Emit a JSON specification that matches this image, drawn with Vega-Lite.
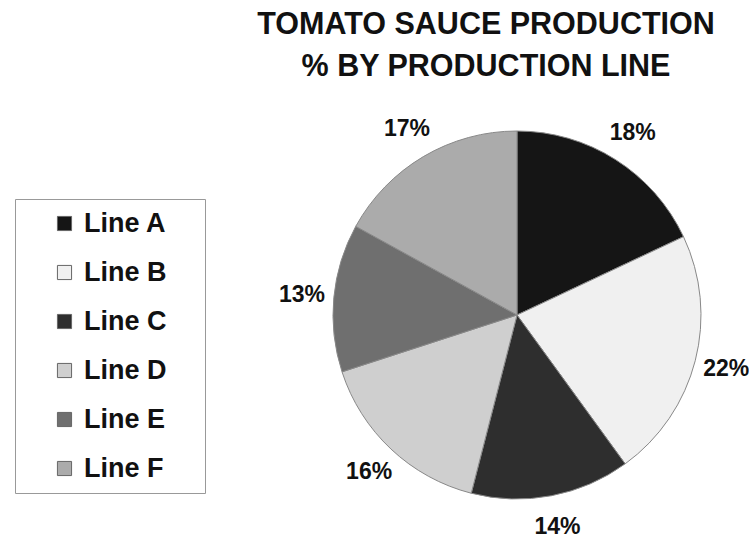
{
  "$schema": "https://vega.github.io/schema/vega-lite/v6.json",
  "autosize": "none",
  "width": 370,
  "height": 370,
  "padding": {"left": 332, "top": 130, "right": 47, "bottom": 44},
  "background": "white",
  "config": {"view": {"stroke": null}, "font": "Liberation Sans"},
  "title": {
    "text": ["TOMATO SAUCE PRODUCTION", "% BY PRODUCTION LINE"],
    "anchor": "middle",
    "fontSize": 30.5,
    "fontWeight": "bold",
    "font": "Liberation Sans",
    "lineHeight": 42,
    "dx": -31,
    "offset": 36,
    "color": "#111"
  },
  "data": {
    "values": [
      {"Line": "Line A", "pct": 0.18},
      {"Line": "Line B", "pct": 0.22},
      {"Line": "Line C", "pct": 0.14},
      {"Line": "Line D", "pct": 0.16},
      {"Line": "Line E", "pct": 0.13},
      {"Line": "Line F", "pct": 0.17}
    ]
  },
  "encoding": {
    "theta": {"field": "pct", "type": "quantitative", "stack": true},
    "order": {"field": "Line", "type": "nominal", "sort": "ascending"}
  },
  "layer": [
    {
      "mark": {"type": "arc", "outerRadius": 184, "stroke": "#888", "strokeWidth": 1},
      "encoding": {
        "color": {
          "field": "Line",
          "type": "nominal",
          "scale": {
            "domain": ["Line A", "Line B", "Line C", "Line D", "Line E", "Line F"],
            "range": ["#151515", "#f0f0f0", "#2e2e2e", "#cfcfcf", "#6f6f6f", "#ababab"]
          },
          "legend": {
            "title": "\u00a0",
            "titleOrient": "right",
            "titlePadding": 27,
            "titleFontSize": 8,
            "orient": "none",
            "legendX": -317,
            "legendY": 69,
            "padding": 11,
            "symbolOffset": 25,
            "strokeColor": "#999",
            "fillColor": "white",
            "symbolType": "square",
            "symbolSize": 200,
            "symbolStrokeColor": "#666",
            "symbolStrokeWidth": 1,
            "labelFontSize": 27,
            "labelFontWeight": "bold",
            "labelFont": "Liberation Sans",
            "labelColor": "#111",
            "labelOffset": 6,
            "rowPadding": 21
          }
        }
      }
    },
    {
      "mark": {"type": "text", "radius": 216, "fontSize": 23, "fontWeight": "bold", "font": "Liberation Sans", "color": "#111"},
      "encoding": {
        "text": {"field": "pct", "type": "quantitative", "format": ".0%"}
      }
    }
  ]
}
